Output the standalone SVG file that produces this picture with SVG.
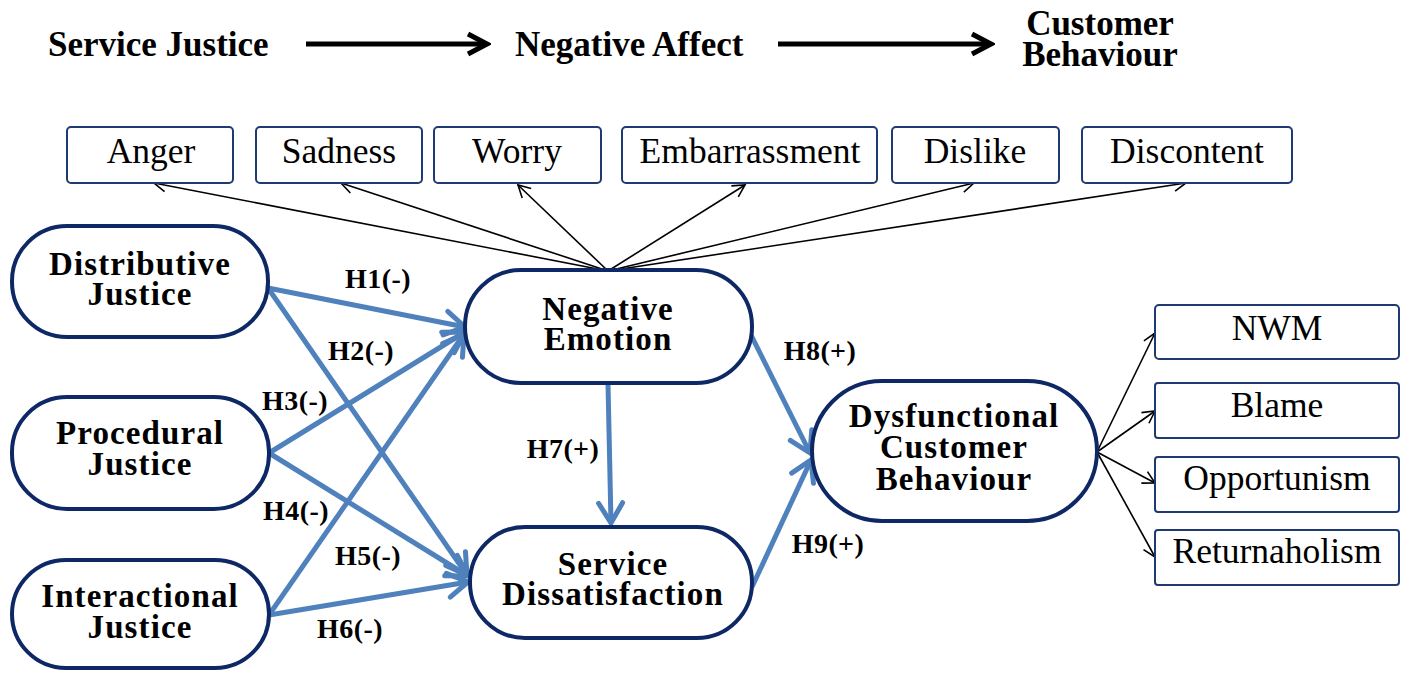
<svg xmlns="http://www.w3.org/2000/svg" width="1405" height="673" viewBox="0 0 1405 673">
<style>
.hdr{font-family:"Liberation Serif","Times New Roman",serif;font-weight:bold;font-size:35px;fill:#000}
.node rect{fill:#fff;stroke:#0E2866;stroke-width:4}
.node text{font-family:"Liberation Serif","Times New Roman",serif;font-weight:bold;font-size:33px;letter-spacing:1.1px;fill:#000;text-anchor:middle}
.box rect{fill:#fff;stroke:#1F3A73;stroke-width:2}
.box text{font-family:"Liberation Serif","Times New Roman",serif;font-size:35.5px;fill:#000;text-anchor:middle}
.lbl{font-family:"Liberation Serif","Times New Roman",serif;font-weight:bold;font-size:28px;letter-spacing:0.4px;fill:#000;text-anchor:middle}
.blue{stroke:#4F81BD;stroke-width:5;fill:none;marker-end:url(#mb)}
.thin{stroke:#000;stroke-width:1.6;fill:none;marker-end:url(#mt)}
.big{stroke:#000;stroke-width:5;fill:none;marker-end:url(#mk)}
</style>
<defs>
<marker id="mb" markerUnits="userSpaceOnUse" viewBox="-30 -16 34 32" refX="0" refY="0" markerWidth="34" markerHeight="32" orient="auto">
<path d="M-20,-12 L0,0 L-20,12" fill="none" stroke="#4F81BD" stroke-width="5" stroke-linecap="round"/>
</marker>
<marker id="mt" markerUnits="userSpaceOnUse" viewBox="-16 -9 18 18" refX="0" refY="0" markerWidth="18" markerHeight="18" orient="auto">
<path d="M-12,-6.5 L0,0 L-12,6.5" fill="none" stroke="#000" stroke-width="1.6"/>
</marker>
<marker id="mk" markerUnits="userSpaceOnUse" viewBox="-26 -14 30 28" refX="0" refY="0" markerWidth="30" markerHeight="28" orient="auto">
<path d="M-19,-10 L0,0 L-19,10" fill="none" stroke="#000" stroke-width="5"/>
</marker>
</defs>

<g id="header">
<text class="hdr" x="48" y="56">Service Justice</text>
<text class="hdr" x="515" y="56">Negative Affect</text>
<text class="hdr" x="1100" y="35" text-anchor="middle">Customer</text>
<text class="hdr" x="1100" y="66" text-anchor="middle">Behaviour</text>
</g>

<g id="connectors">
<line class="big" x1="306" y1="44" x2="487" y2="44"/>
<line class="big" x1="778" y1="44" x2="991" y2="44"/>
<line class="thin" x1="608" y1="271" x2="154" y2="183"/>
<line class="thin" x1="608" y1="271" x2="341" y2="183"/>
<line class="thin" x1="608" y1="271" x2="518" y2="185"/>
<line class="thin" x1="608" y1="271" x2="745" y2="185"/>
<line class="thin" x1="608" y1="271" x2="974" y2="183"/>
<line class="thin" x1="608" y1="271" x2="1186" y2="183"/>
<line class="thin" x1="1097" y1="452" x2="1155" y2="333"/>
<line class="thin" x1="1097" y1="452" x2="1155" y2="411"/>
<line class="thin" x1="1097" y1="452" x2="1155" y2="483"/>
<line class="thin" x1="1097" y1="452" x2="1155" y2="557"/>
<line class="blue" x1="268" y1="288" x2="465" y2="327"/>
<line class="blue" x1="268" y1="288" x2="467" y2="575"/>
<line class="blue" x1="269" y1="453" x2="465" y2="332"/>
<line class="blue" x1="269" y1="453" x2="468" y2="576"/>
<line class="blue" x1="269" y1="615" x2="464" y2="334"/>
<line class="blue" x1="269" y1="615" x2="468" y2="582"/>
<line class="blue" x1="608" y1="384" x2="611" y2="523"/>
<line class="blue" x1="750" y1="333" x2="810" y2="453"/>
<line class="blue" x1="752" y1="587" x2="811" y2="460"/>
</g>

<g id="labels">
<text class="lbl" x="378" y="288">H1(-)</text>
<text class="lbl" x="361" y="360">H2(-)</text>
<text class="lbl" x="295" y="410">H3(-)</text>
<text class="lbl" x="296" y="520">H4(-)</text>
<text class="lbl" x="368" y="565">H5(-)</text>
<text class="lbl" x="350" y="638">H6(-)</text>
<text class="lbl" x="563" y="458">H7(+)</text>
<text class="lbl" x="820" y="360">H8(+)</text>
<text class="lbl" x="828" y="553">H9(+)</text>
</g>

<g id="anger" class="box"><rect x="67" y="127" width="166" height="56" rx="4"/><text x="151" y="163">Anger</text></g>
<g id="sadness" class="box"><rect x="256" y="127" width="166" height="56" rx="4"/><text x="339" y="163">Sadness</text></g>
<g id="worry" class="box"><rect x="434" y="127" width="167" height="56" rx="4"/><text x="517" y="163">Worry</text></g>
<g id="embarrassment" class="box"><rect x="622" y="127" width="255" height="56" rx="4"/><text x="750" y="163">Embarrassment</text></g>
<g id="dislike" class="box"><rect x="892" y="127" width="167" height="56" rx="4"/><text x="975" y="163">Dislike</text></g>
<g id="discontent" class="box"><rect x="1082" y="127" width="210" height="56" rx="4"/><text x="1187" y="163">Discontent</text></g>

<g id="nwm" class="box"><rect x="1155" y="305" width="244" height="54" rx="4"/><text x="1277" y="340">NWM</text></g>
<g id="blame" class="box"><rect x="1155" y="383" width="244" height="55" rx="3"/><text x="1277" y="417">Blame</text></g>
<g id="opportunism" class="box"><rect x="1155" y="457" width="244" height="55" rx="3"/><text x="1277" y="490">Opportunism</text></g>
<g id="returnaholism" class="box"><rect x="1155" y="530" width="244" height="55" rx="3"/><text x="1277" y="563">Returnaholism</text></g>

<g id="distributive" class="node"><rect x="12" y="226" width="256" height="111" rx="55"/><text x="140" y="275">Distributive</text><text x="140" y="305">Justice</text></g>
<g id="procedural" class="node"><rect x="12" y="397" width="257" height="112" rx="55"/><text x="140" y="444">Procedural</text><text x="140" y="475">Justice</text></g>
<g id="interactional" class="node"><rect x="12" y="560" width="257" height="108" rx="54"/><text x="140" y="607">Interactional</text><text x="140" y="638">Justice</text></g>
<g id="negative-emotion" class="node"><rect x="465" y="270" width="287" height="113" rx="56"/><text x="608" y="320">Negative</text><text x="608" y="350">Emotion</text></g>
<g id="service-dissatisfaction" class="node"><rect x="470" y="527" width="282" height="111" rx="55"/><text x="613" y="575">Service</text><text x="613" y="605">Dissatisfaction</text></g>
<g id="dysfunctional" class="node"><rect x="812" y="381" width="285" height="140" rx="70"/><text x="954" y="427">Dysfunctional</text><text x="954" y="458">Customer</text><text x="954" y="490">Behaviour</text></g>
</svg>
